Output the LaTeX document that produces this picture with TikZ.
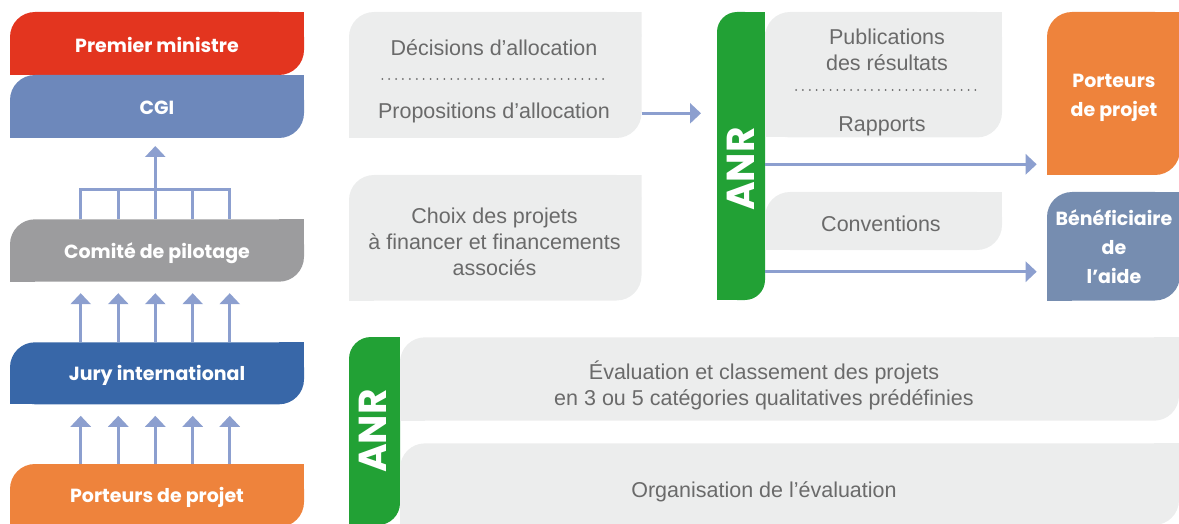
\documentclass[tikz,border=0pt]{standalone}
\usepackage{fontspec}
\setmainfont{Liberation Sans}
\newfontfamily\headfont{Poppins}
\usetikzlibrary{arrows.meta}

\definecolor{pmred}{HTML}{E3351F}
\definecolor{cgiblue}{HTML}{6D88BB}
\definecolor{copgrey}{HTML}{9C9C9E}
\definecolor{juryblue}{HTML}{3867A8}
\definecolor{portorange}{HTML}{EE833C}
\definecolor{panelgrey}{HTML}{ECEDED}
\definecolor{anrgreen}{HTML}{22A135}
\definecolor{benefblue}{HTML}{768DB0}
\definecolor{textgrey}{HTML}{6A6A6A}
\definecolor{flowblue}{HTML}{8C9FCF}

\tikzset{
  % box with rounded top-left and bottom-right corners
  leaf/.style 2 args={rectangle, inner sep=0pt, outer sep=0pt,
    path picture={
      \fill[#1, rounded corners=#2] (path picture bounding box.south west) rectangle (path picture bounding box.north east);
      \fill[#1] ([xshift=-#2]path picture bounding box.north east) rectangle ([yshift=-#2]path picture bounding box.north east);
      \fill[#1] ([xshift=#2]path picture bounding box.south west) rectangle ([yshift=#2]path picture bounding box.south west);
    }},
  lbl/.style={text=white, align=center, font=\headfont\bfseries\fontsize{19}{29}\selectfont},
  anrlbl/.style={text=white, rotate=90, inner sep=0pt, font=\headfont\bfseries\fontsize{39}{40}\selectfont},
  txt/.style={text=textgrey, align=center, inner sep=0pt, font=\fontsize{21.5}{26}\selectfont},
  flowline/.style={draw=flowblue, line width=3pt},
  flow/.style={flowline, -{Triangle[length=11pt,width=20pt]}},
  dots/.style={draw=textgrey, line width=2pt, line cap=round, dash pattern=on 0pt off 6.9pt},
}

\begin{document}
\begin{tikzpicture}[x=1pt,y=-1pt]
\useasboundingbox (0,0) rectangle (1179,524);

% left column: decision chain
\node[leaf={pmred}{25pt}, minimum width=294pt, minimum height=63pt] (pm) at (157,43.5) {};
\node[lbl] (pmT) at (157,45) {Premier ministre};
\node[leaf={cgiblue}{25pt}, minimum width=294pt, minimum height=63pt] (cgi) at (157,106.5) {};
\node[lbl] (cgiT) at (157,108) {CGI};
\node[leaf={copgrey}{25pt}, minimum width=294pt, minimum height=62.4pt] (comite) at (157,250.5) {};
\node[lbl] (comiteT) at (157,253) {Comité de pilotage};
\node[leaf={juryblue}{25pt}, minimum width=294pt, minimum height=62pt] (jury) at (157,373.3) {};
\node[lbl] (juryT) at (157,375.5) {Jury international};
\node[leaf={portorange}{25pt}, minimum width=294pt, minimum height=63pt] (portL) at (157,495.5) {};
\node[lbl] (portLT) at (157,497.5) {Porteurs de projet};

\foreach \i/\x in {1/80.7,2/118.3,3/155.3,4/192.7,5/229.7}
  \coordinate (col\i) at (\x,190);
\draw[flowline] (comite.north -| col1) -- (col1) -- (col5) -- (comite.north -| col5);
\foreach \i in {2,3,4}
  \draw[flowline] (col\i) -- (comite.north -| col\i);
\draw[flow, shorten >=8pt] (col3) -- (cgi.south -| col3);
\foreach \i in {1,...,5} {
  \draw[flow, shorten >=11.5pt] (jury.north -| col\i) -- (comite.south -| col\i);
  \draw[flow, shorten >=11.5pt] (portL.north -| col\i) -- (jury.south -| col\i);
}

% middle column
\node[leaf={panelgrey}{25pt}, minimum width=292.5pt, minimum height=126pt] (dec) at (495.25,75) {};
\node[txt] (decT) at (494,48) {Décisions d’allocation};
\node[txt] (propT) at (494,112.5) {Propositions d’allocation};
\draw[dots] ([shift={(-113pt,-4pt)}]dec.center) -- ([shift={(112pt,-4pt)}]dec.center);

\node[leaf={panelgrey}{25pt}, minimum width=292.5pt, minimum height=125.5pt] (choix) at (495.25,237.75) {};
\node[txt] (choixT) at (494.5,241.5) {Choix des projets\\à financer et financements\\associés};

% ANR and its outputs
\node[leaf={anrgreen}{20pt}, minimum width=48pt, minimum height=288pt] (anrT) at (741,156) {};
\node[anrlbl] (anrTT) at (741,169) {ANR};

\node[leaf={panelgrey}{25pt}, minimum width=237pt, minimum height=125.5pt] (pub) at (883.5,74.75) {};
\node[txt] (pubT) at (887,50) {Publications\\des résultats};
\node[txt] (rapT) at (882,126) {Rapports};
\draw[dots] ([shift={(-87.5pt,-15.25pt)}]pub.center) -- ([shift={(93.5pt,-15.25pt)}]pub.center);

\node[leaf={panelgrey}{25pt}, minimum width=237pt, minimum height=58pt] (conv) at (883.5,221) {};
\node[txt] (convT) at (881,224) {Conventions};

\node[leaf={portorange}{25pt}, minimum width=133pt, minimum height=163pt] (portR) at (1113.5,93.5) {};
\node[lbl] (portRT) at (1114,97.5) {Porteurs\\de projet};
\node[leaf={benefblue}{25pt}, minimum width=133pt, minimum height=108.5pt] (benef) at (1113.5,246.25) {};
\node[lbl] (benefT) at (1114,247) {Bénéficiaire\\de\\l’aide};

\coordinate (r1) at (0,113.3);
\coordinate (r2) at (0,164.3);
\coordinate (r3) at (0,271.7);
\draw[flow, shorten >=16pt] (dec.east |- r1) -- (anrT.west |- r1);
\draw[flow, shorten >=10.3pt] (anrT.east |- r2) -- (portR.west |- r2);
\draw[flow, shorten >=10.3pt] (anrT.east |- r3) -- (benef.west |- r3);

% bottom band: evaluation by ANR
\node[leaf={anrgreen}{22pt}, minimum width=51pt, minimum height=188pt] (anrB) at (374.5,431) {};
\node[anrlbl] (anrBT) at (372.5,431) {ANR};
\node[leaf={panelgrey}{25pt}, minimum width=779pt, minimum height=83.4pt] (eval) at (789.5,379) {};
\node[txt] (evalT) at (764,385) {Évaluation et classement des projets\\en 3 ou 5 catégories qualitatives prédéfinies};
\node[leaf={panelgrey}{25pt}, minimum width=779pt, minimum height=81.7pt] (org) at (789.5,484.2) {};
\node[txt] (orgT) at (764,491.5) {Organisation de l’évaluation};
\end{tikzpicture}
\end{document}
